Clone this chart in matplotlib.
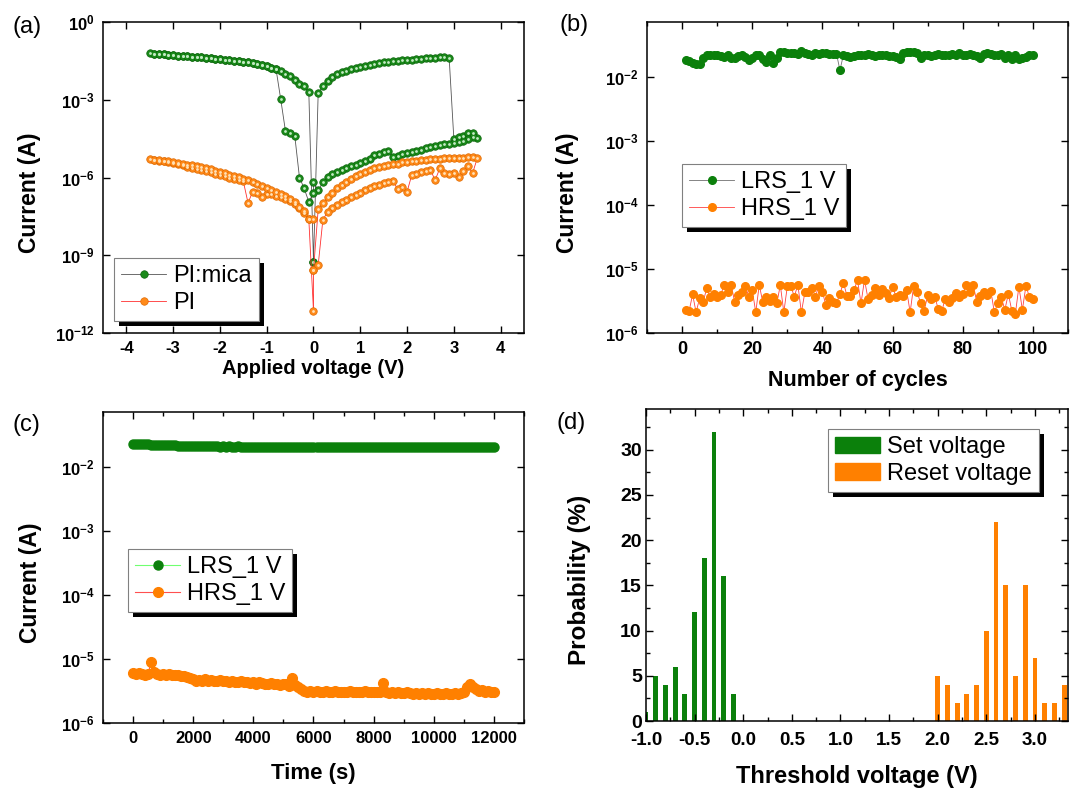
import numpy as np
import matplotlib.pyplot as plt
from matplotlib.patches import Rectangle, Patch
from matplotlib.transforms import IdentityTransform
from matplotlib.ticker import FixedLocator, MultipleLocator, FuncFormatter, NullLocator, FormatStrFormatter

plt.rcParams['font.family'] = ['Liberation Sans', 'DejaVu Sans']
plt.rcParams['font.weight'] = 'bold'
plt.rcParams['axes.labelweight'] = 'bold'
plt.rcParams['axes.unicode_minus'] = False
plt.rcParams['mathtext.fontset'] = 'custom'
plt.rcParams['mathtext.rm'] = 'Liberation Sans:bold'
plt.rcParams['mathtext.bf'] = 'Liberation Sans:bold'
plt.rcParams['mathtext.default'] = 'bf'

W, H = 1073, 788
GREEN = '#0b800b'
ORANGE = '#ff8000'

# ---------------- (a) I-V sweep, log10(current / A) ----------------
v_pos = [0.1, 0.2, 0.3, 0.4, 0.5, 0.6, 0.7, 0.8, 0.9, 1.0, 1.1, 1.2, 1.3, 1.4, 1.5, 1.6, 1.7,
         1.8, 1.9, 2.0, 2.1, 2.2, 2.3, 2.4, 2.5, 2.6, 2.7, 2.8, 2.9, 3.0, 3.1, 3.2, 3.3, 3.4, 3.5]

# PI:mica
g_lrs_pos = [-2.75, -2.46, -2.27, -2.14, -2.02, -1.94, -1.88, -1.81, -1.76, -1.72, -1.68, -1.65,
             -1.61, -1.58, -1.55, -1.53, -1.51, -1.49, -1.48, -1.47, -1.45, -1.43, -1.41, -1.40,
             -1.39, -1.38, -1.36, -1.35, -1.38]                       # 0.1 .. 2.9
g_hrs_fwd = [-4.50, -4.42, -4.40, -4.27, -4.28, -4.49]                 # 3.0 .. 3.5
g_hrs_ret = [-6.50, -6.19, -5.97, -5.86, -5.78, -5.70, -5.62, -5.56, -5.50, -5.43, -5.36, -5.29,
             -5.15, -5.08, -5.03, -4.97, -5.22, -5.16, -5.11, -5.06, -5.01, -4.96, -4.92, -4.87,
             -4.83, -4.79, -4.76, -4.72, -4.70, -4.66, -4.62, -4.58, -4.52, -4.45]   # 0.1 .. 3.4
g_hrs_neg = [-6.94, -6.42, -6.00, -4.40, -4.30, -4.20, -2.99]          # -0.1 .. -0.7
g_lrs_neg = [-1.83, -1.76, -1.71, -1.66, -1.62, -1.58, -1.55, -1.53, -1.51, -1.49, -1.47, -1.45,
             -1.43, -1.41, -1.40, -1.38, -1.36, -1.35, -1.34, -1.32, -1.31, -1.30, -1.29, -1.27,
             -1.25, -1.23, -1.22, -1.21]                               # -0.8 .. -3.5
g_lrs_neg_low = [-2.72, -2.48, -2.38, -2.24, -2.10, -2.00, -1.90]      # -0.1 .. -0.7

# PI
o_pos_a = [-7.23, -6.98, -6.76, -6.58, -6.42, -6.29, -6.16, -6.05, -5.94, -5.85, -5.78, -5.71,
           -5.65, -5.60, -5.55, -5.52, -5.49, -5.46, -5.42, -5.39, -5.37, -5.35, -5.33, -5.31,
           -5.30, -5.29, -5.27, -5.26, -5.25, -5.24, -5.24, -5.23, -5.22, -5.22, -5.26]  # 0.1 .. 3.5
o_pos_b = [-9.38, -7.64, -7.32, -7.18, -7.07, -6.95, -6.85, -6.76, -6.66, -6.58, -6.50, -6.42,
           -6.34, -6.28, -6.22, -6.17, -6.13, -6.46, -6.38, -6.55, -5.91, -5.85, -5.80, -5.76,
           -5.71, -6.10, -5.65, -5.84, -5.86, -5.84, -5.97, -5.74, -5.55, -5.84]         # 0.1 .. 3.4
o_neg_a = [-7.62, -7.38, -7.18, -7.02, -6.92, -6.82, -6.74, -6.70, -6.65, -6.62, -6.74, -6.60,
           -6.55, -6.98, -6.15, -6.10, -6.05, -6.00, -5.95, -5.90, -5.85, -5.80, -5.74, -5.70,
           -5.66, -5.62, -5.58, -5.53, -5.49, -5.45, -5.41, -5.38, -5.35, -5.32, -5.30]  # -0.1 .. -3.5
o_neg_b = [-7.60, -7.30, -7.12, -6.95, -6.82, -6.72, -6.64, -6.56, -6.48, -6.40, -6.32, -6.24,
           -6.17, -6.11, -6.05, -5.99, -5.94, -5.89, -5.84, -5.79, -5.74, -5.69, -5.65, -5.61,
           -5.57, -5.53, -5.50, -5.47, -5.44, -5.41, -5.38, -5.35, -5.33, -5.31]         # -0.1 .. -3.4

# ---------------- (b) endurance ----------------
lrs_b = [1.82, 1.78, 1.65, 1.61, 1.61, 2.00, 2.23, 2.23, 2.18, 2.18,
         2.10, 2.05, 2.23, 2.00, 2.00, 2.10, 2.23, 2.05, 1.82, 2.00,
         2.18, 2.23, 1.93, 1.71, 2.18, 1.65, 2.00, 2.45, 2.45, 2.39,
         2.37, 2.39, 2.31, 2.51, 2.39, 2.31, 2.23, 2.37, 2.26, 2.37,
         2.37, 2.31, 2.31, 2.31, 1.27, 2.23, 2.10, 2.05, 2.10, 2.18,
         2.18, 2.18, 2.31, 2.18, 2.10, 2.23, 2.18, 2.18, 2.10, 2.10,
         2.05, 1.93, 2.37, 2.45, 2.45, 2.45, 2.39, 2.00, 2.18, 2.18,
         2.10, 2.23, 2.31, 2.18, 2.23, 2.23, 2.31, 2.23, 2.39, 2.23,
         2.18, 2.31, 2.23, 2.10, 2.00, 2.31, 2.37, 2.31, 2.23, 2.23,
         2.31, 2.00, 2.18, 1.93, 2.23, 1.93, 2.00, 2.05, 2.23, 2.23]   # x 1e-2 A
hrs_b = [2.3, 2.2, 4.0, 2.1, 3.5, 3.0, 5.0, 3.6, 4.1, 3.7,
         3.9, 5.7, 4.3, 5.7, 3.0, 3.9, 4.4, 5.5, 3.7, 4.7,
         2.1, 5.7, 3.0, 3.7, 3.2, 3.7, 2.9, 5.6, 2.1, 5.4,
         5.4, 3.7, 5.7, 2.1, 4.3, 4.4, 5.0, 3.7, 5.5, 4.4,
         2.7, 3.5, 3.0, 2.9, 4.1, 6.1, 3.8, 3.8, 4.7, 6.7,
         2.9, 6.8, 3.4, 3.9, 5.0, 3.9, 4.8, 4.2, 3.5, 5.2,
         3.7, 3.9, 3.8, 4.7, 2.1, 5.4, 4.4, 2.9, 2.2, 3.9,
         3.4, 3.7, 2.4, 2.2, 3.4, 3.0, 3.5, 4.2, 3.7, 4.1,
         5.7, 4.3, 5.7, 3.0, 3.8, 4.3, 3.9, 4.6, 2.1, 2.9,
         3.6, 2.3, 4.1, 2.2, 2.0, 5.3, 2.3, 5.4, 3.7, 3.4]             # x 1e-6 A

# ---------------- (c) retention, one sample every 100 s ----------------
lrs_c = [2.27, 2.26, 2.26, 2.25, 2.24, 2.24, 2.23, 2.22, 2.21, 2.21,
         2.20, 2.19, 2.18, 2.17, 2.16, 2.15, 2.14, 2.12, 2.11, 2.10,
         2.10, 2.10, 2.09, 2.10, 2.09, 2.09, 2.10, 2.09, 2.09, 2.08,
         2.09, 2.08, 2.09, 2.08, 2.08, 2.09, 2.08, 2.08, 2.07, 2.08,
         2.08, 2.07, 2.08, 2.07, 2.07, 2.08, 2.07, 2.07, 2.06, 2.07,
         2.07, 2.06, 2.07, 2.06, 2.07, 2.06, 2.06, 2.07, 2.06, 2.06,
         2.06, 2.05, 2.06, 2.06, 2.05, 2.06, 2.05, 2.05, 2.06, 2.05,
         2.05, 2.05, 2.04, 2.05, 2.05, 2.04, 2.05, 2.04, 2.04, 2.05,
         2.04, 2.04, 2.03, 2.04, 2.04, 2.03, 2.04, 2.03, 2.03, 2.04,
         2.03, 2.03, 2.02, 2.03, 2.03, 2.02, 2.03, 2.02, 2.02, 2.03,
         2.02, 2.02, 2.01, 2.02, 2.02, 2.01, 2.02, 2.01, 2.01, 2.02,
         2.01, 2.01, 2.02, 2.01, 2.01, 2.02, 2.01, 2.01, 2.02, 2.01, 2.02]   # x 1e-2 A
hrs_c = [6.0, 5.8, 6.1, 5.9, 5.7, 5.9, 9.0, 6.3, 5.8, 5.7,
         5.9, 5.6, 5.8, 5.7, 5.6, 5.7, 5.5, 5.4, 5.2, 5.0,
         4.8, 4.6, 4.7, 4.5, 4.8, 4.6, 4.7, 4.5, 4.6, 4.7,
         4.5, 4.6, 4.4, 4.5, 4.3, 4.4, 4.5, 4.3, 4.4, 4.2,
         4.3, 4.1, 4.3, 4.2, 4.1, 4.0, 4.2, 4.0, 4.1, 3.9,
         4.0, 4.1, 3.8, 5.0, 3.9, 3.7, 3.4, 3.2, 3.1, 3.2,
         3.1, 3.2, 3.0, 3.1, 3.2, 3.0, 3.1, 3.2, 3.1, 3.0,
         3.1, 3.0, 3.2, 3.1, 3.0, 3.1, 3.0, 3.2, 3.1, 3.0,
         3.1, 3.0, 3.1, 4.2, 3.0, 2.9, 3.0, 2.9, 3.0, 2.9,
         2.9, 3.0, 2.9, 2.8, 2.9, 2.8, 2.9, 2.8, 2.9, 2.8,
         2.8, 2.9, 2.8, 2.8, 2.9, 2.8, 2.8, 2.9, 2.8, 2.9,
         3.0, 3.6, 4.1, 3.7, 3.4, 3.2, 3.3, 3.1, 3.2, 3.1, 3.1]             # x 1e-6 A

# ---------------- (d) threshold voltage histogram ----------------
set_v = [-1.0, -0.9, -0.8, -0.7, -0.6, -0.5, -0.4, -0.3, -0.2, -0.1]
set_p = [1, 5, 4, 6, 3, 12, 18, 32, 16, 3]
reset_v = [2.0, 2.1, 2.2, 2.3, 2.4, 2.5, 2.6, 2.7, 2.8, 2.9, 3.0, 3.1, 3.2, 3.3]
reset_p = [5, 4, 2, 3, 4, 10, 22, 15, 5, 15, 7, 2, 2, 4]


def fpos(l, t, r, b):
    return [l / W, 1 - b / H, (r - l) / W, (b - t) / H]


def log_fmt(v, pos):
    return r'$10^{%d}$' % int(round(np.log10(v)))


def style(ax, size=12, pad=6):
    ax.tick_params(which='both', direction='in', top=True, right=True, width=1,
                   labelsize=size, pad=pad)
    ax.tick_params(which='major', length=5)
    ax.tick_params(which='minor', length=3)
    for s in ax.spines.values():
        s.set_linewidth(1.1)


def add_legend(ax, handles, labels, x, y, size=17):
    leg = ax.legend(handles, labels, loc='upper left', bbox_to_anchor=(x / W, 1 - y / H),
                    bbox_transform=fig.transFigure, borderaxespad=0, fancybox=False,
                    framealpha=1, edgecolor='#808080', prop={'size': size, 'weight': 'normal'},
                    handlelength=1.9, handletextpad=0.3, labelspacing=0.2, borderpad=0.3,
                    numpoints=1)
    leg.get_frame().set_linewidth(0.8)
    return leg


def add_shadow(ax, leg, d=5):
    fig.canvas.draw()
    bb = leg.get_frame().get_window_extent()
    ax.add_artist(Rectangle((bb.x0 + d, bb.y0 - d), bb.width, bb.height,
                            transform=IdentityTransform(), facecolor='k', edgecolor='none',
                            zorder=leg.get_zorder() - 0.5, clip_on=False))


def log_axis(ax, ylim, ticks):
    ax.set_yscale('log')
    ax.set_ylim(*ylim)
    ax.yaxis.set_major_locator(FixedLocator(ticks))
    ax.yaxis.set_minor_locator(NullLocator())
    ax.yaxis.set_major_formatter(FuncFormatter(log_fmt))


fig = plt.figure(figsize=(W / 100, H / 100), dpi=100)
ax_a = fig.add_axes(fpos(103, 22, 524, 333))
ax_b = fig.add_axes(fpos(647, 22, 1068, 333))
ax_c = fig.add_axes(fpos(103, 412, 524, 723))
ax_d = fig.add_axes(fpos(646, 409, 1068, 721))

# ---- (a)
vp = np.array(v_pos)
ga_x = np.concatenate([[0.0], vp[:29], vp[29:], vp[:34][::-1], [0.0, 0.0], -vp[:7], -vp[7:],
                       -vp[7:34][::-1], -vp[:7][::-1], [0.0]])
ga_y = np.concatenate([[-9.25], g_lrs_pos, g_hrs_fwd, g_hrs_ret[::-1], [-6.17, -6.60], g_hrs_neg,
                       g_lrs_neg, g_lrs_neg[:-1][::-1], g_lrs_neg_low[::-1], [-9.25]])
oa_x = np.concatenate([[0.0], vp, vp[:34][::-1], [0.0, 0.0], -vp, -vp[:34][::-1], [0.0]])
oa_y = np.concatenate([[-9.58], o_pos_a, o_pos_b[::-1], [-9.58, -11.16], o_neg_a, o_neg_b[::-1],
                       [-7.62]])

lg, = ax_a.plot(ga_x, 10.0 ** ga_y, '-', color='#555555', lw=0.6, marker='o', ms=5.4,
                mfc='#1a8a1a', mec='#0a640a', mew=0.5)
ax_a.plot(ga_x, 10.0 ** ga_y, 'o', ms=2.0, color='#c4ecc4', mew=0)
lo, = ax_a.plot(oa_x, 10.0 ** oa_y, '-', color='#ff3030', lw=0.6, marker='o', ms=5.4,
                mfc='#ff8a1a', mec='#e06a00', mew=0.5)
ax_a.plot(oa_x, 10.0 ** oa_y, 'o', ms=2.0, color='#ffe2b8', mew=0)
log_axis(ax_a, (1e-12, 1), [1e-12, 1e-9, 1e-6, 1e-3, 1])
ax_a.set_xlim(-4.5, 4.5)
ax_a.xaxis.set_major_locator(MultipleLocator(1))
ax_a.set_xlabel('Applied voltage (V)', fontsize=14.5)
ax_a.set_ylabel('Current (A)', fontsize=16.5)
ax_a.xaxis.set_label_coords(0.5, -0.085)
ax_a.yaxis.set_label_coords(-0.147, 0.45)
style(ax_a)
leg_a = add_legend(ax_a, [lg, lo], ['PI:mica', 'PI'], 114, 258)

# ---- (b)
cyc = np.arange(1, 101)
lb, = ax_b.plot(cyc, np.array(lrs_b) * 1e-2, '-', color='#707070', lw=0.6, marker='o', ms=5.5,
                mfc=GREEN, mec=GREEN)
hb, = ax_b.plot(cyc, np.array(hrs_b) * 1e-6, '-', color='#ff4040', lw=0.6, marker='o', ms=5.5,
                mfc=ORANGE, mec=ORANGE)
log_axis(ax_b, (1e-6, 0.072), [1e-6, 1e-5, 1e-4, 1e-3, 1e-2])
ax_b.set_xlim(-10, 110)
ax_b.xaxis.set_major_locator(MultipleLocator(20))
ax_b.xaxis.set_minor_locator(MultipleLocator(10))
ax_b.set_xlabel('Number of cycles', fontsize=15.5)
ax_b.set_ylabel('Current (A)', fontsize=16.5)
ax_b.xaxis.set_label_coords(0.5, -0.12)
ax_b.yaxis.set_label_coords(-0.162, 0.45)
style(ax_b)
ax_b.tick_params(axis='x', labelsize=13)
leg_b = add_legend(ax_b, [lb, hb], ['LRS_1 V', 'HRS_1 V'], 682, 164)

# ---- (c)
t = np.arange(0, 12001, 100)
lc, = ax_c.plot(t, np.array(lrs_c) * 1e-2, '-', color='#70ff70', lw=0.8, marker='o', ms=6.5,
                mfc=GREEN, mec=GREEN)
hc, = ax_c.plot(t, np.array(hrs_c) * 1e-6, '-', color='#ff5050', lw=0.8, marker='o', ms=7,
                mfc=ORANGE, mec=ORANGE)
log_axis(ax_c, (1e-6, 0.072), [1e-6, 1e-5, 1e-4, 1e-3, 1e-2])
ax_c.set_xlim(-1000, 13000)
ax_c.xaxis.set_major_locator(MultipleLocator(2000))
ax_c.xaxis.set_minor_locator(MultipleLocator(1000))
ax_c.set_xlabel('Time (s)', fontsize=16)
ax_c.set_ylabel('Current (A)', fontsize=16.5)
ax_c.xaxis.set_label_coords(0.5, -0.13)
ax_c.yaxis.set_label_coords(-0.145, 0.45)
style(ax_c)
leg_c = add_legend(ax_c, [lc, hc], ['LRS_1 V', 'HRS_1 V'], 128, 549)

# ---- (d)
ax_d.bar(set_v, set_p, width=0.05, color=GREEN, linewidth=0)
ax_d.bar(reset_v, reset_p, width=0.05, color=ORANGE, linewidth=0)
ax_d.set_xlim(-1.0, 3.34)
ax_d.set_ylim(0, 34.5)
ax_d.xaxis.set_major_locator(MultipleLocator(0.5))
ax_d.xaxis.set_minor_locator(MultipleLocator(0.25))
ax_d.xaxis.set_major_formatter(FormatStrFormatter('%.1f'))
ax_d.yaxis.set_major_locator(MultipleLocator(5))
ax_d.yaxis.set_minor_locator(MultipleLocator(2.5))
ax_d.set_xlabel('Threshold voltage (V)', fontsize=17)
ax_d.set_ylabel('Probability (%)', fontsize=17.5)
ax_d.xaxis.set_label_coords(0.5, -0.14)
ax_d.yaxis.set_label_coords(-0.130, 0.452)
style(ax_d, size=13.5, pad=4)
ax_d.tick_params(axis='x', pad=8)
ax_d.tick_params(axis='y', labelsize=14, pad=3)
leg_d = add_legend(ax_d, [Patch(color=GREEN), Patch(color=ORANGE)],
                   ['Set voltage', 'Reset voltage'], 828, 429)

for txt, x, y in [('(a)', 12, 27), ('(b)', 560, 25), ('(c)', 12, 425), ('(d)', 556, 423)]:
    fig.text(x / W, 1 - y / H, txt, fontsize=17, fontweight='normal', va='center', ha='left')

for ax, leg in [(ax_a, leg_a), (ax_b, leg_b), (ax_c, leg_c), (ax_d, leg_d)]:
    add_shadow(ax, leg)

fig.savefig('out.png', dpi=100)
